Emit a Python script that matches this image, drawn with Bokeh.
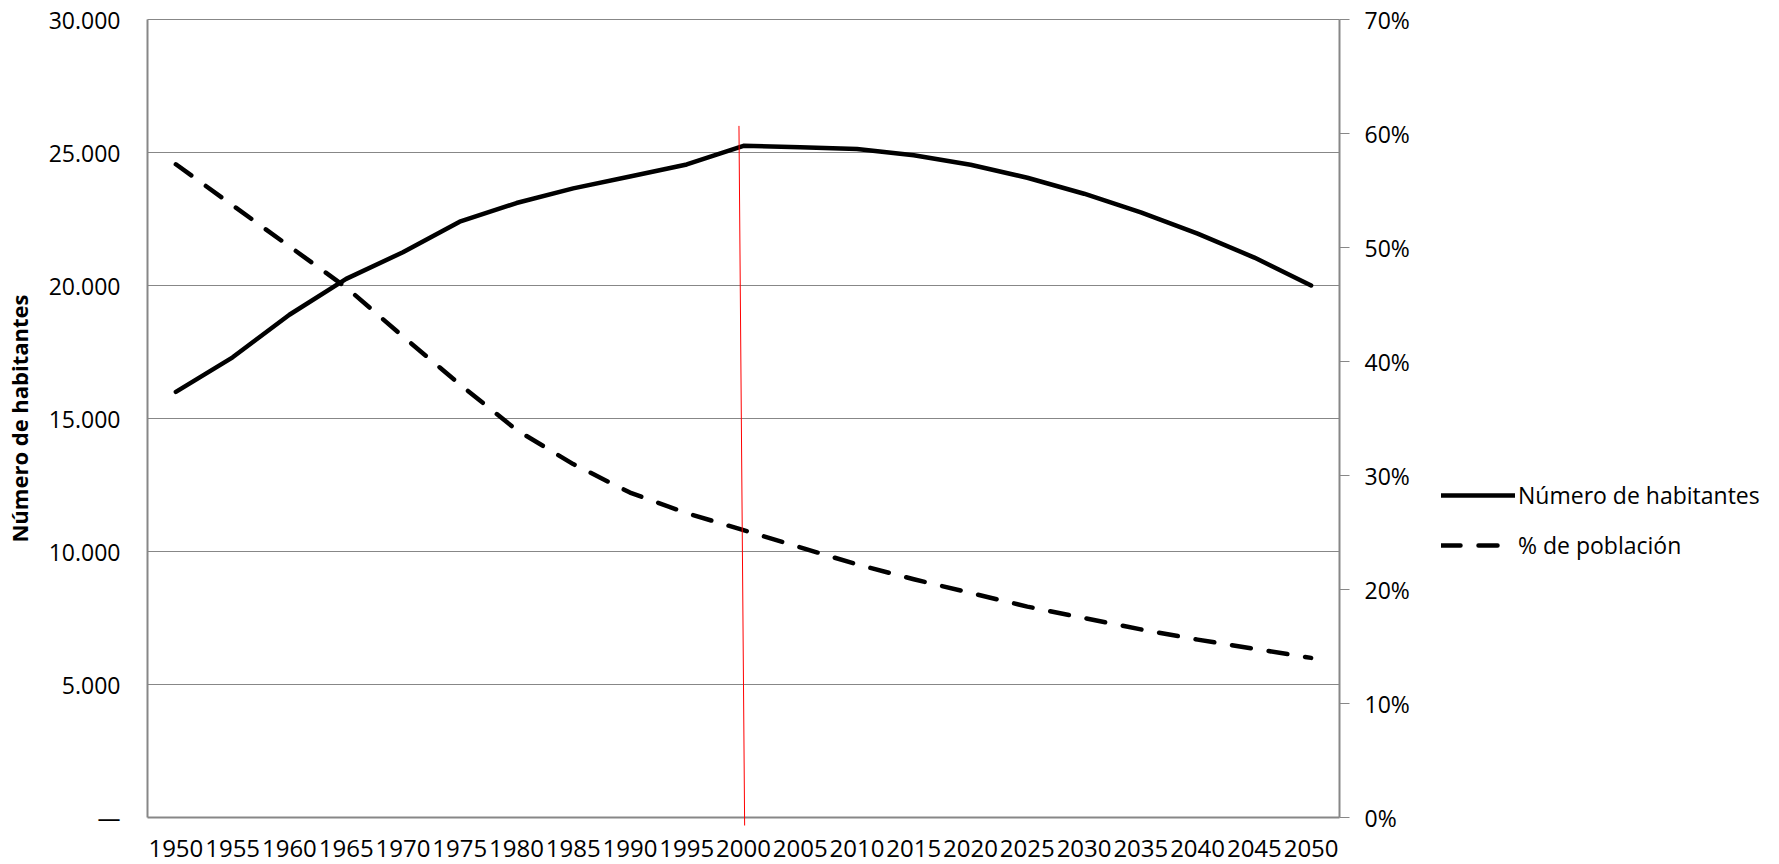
from bokeh.plotting import figure
from bokeh.models import (Range1d, LinearAxis, FixedTicker,
                          Legend, LegendItem)
from bokeh.embed import file_html
from bokeh.resources import INLINE

# ---------------- data ----------------
years = [1950, 1955, 1960, 1965, 1970, 1975, 1980, 1985, 1990, 1995, 2000,
         2005, 2010, 2015, 2020, 2025, 2030, 2035, 2040, 2045, 2050]
year_labels = [str(y) for y in years]

habitantes = [16000, 17300, 18900, 20250, 21250, 22400, 23100, 23650, 24100,
              24550, 25250, 25200, 25130, 24900, 24540, 24050, 23450, 22750,
              21950, 21050, 20000]

poblacion_pct = [57.3, 53.7, 50.1, 46.5, 42.2, 38.0, 34.0, 31.0, 28.5, 26.7,
                 25.2, 23.7, 22.2, 20.9, 19.7, 18.5, 17.5, 16.5, 15.6, 14.8, 14.0]

left_ticks = [0, 5000, 10000, 15000, 20000, 25000, 30000]
left_tick_labels = ["\u2014", "5.000", "10.000", "15.000", "20.000", "25.000", "30.000"]
right_ticks = [0, 10, 20, 30, 40, 50, 60, 70]
right_tick_labels = ["0%", "10%", "20%", "30%", "40%", "50%", "60%", "70%"]

series_names = ["N\u00famero de habitantes", "% de poblaci\u00f3n"]
y_title = "N\u00famero de habitantes"

marker_x_top = 1999.6
marker_x_bottom = 2000.1
marker_top = 26000

# ---------------- layout ----------------
W, H = 1779, 864
x_lo, x_hi = 1947.5, 2052.5          # category band edges
px_left, px_right = 147, 1339        # plot-area edges in pixels
top_px, zero_px = 19, 817            # pixel rows of the top value and of zero
marker_drop_px = 8                   # red line runs a little below the axis
left_max, right_max = 30000, 70

span_px = zero_px - top_px
y_start = -(H - zero_px) / span_px * left_max
y_end = left_max + top_px / span_px * left_max
pct_start = -(H - zero_px) / span_px * right_max
pct_end = right_max + top_px / span_px * right_max
x_per_px = (x_hi - x_lo) / (px_right - px_left)
x_start = x_lo - px_left * x_per_px
x_end = x_hi + (W - px_right) * x_per_px
marker_bottom = -marker_drop_px / span_px * left_max

GRAY = "#878787"
FONT = "Open Sans"

p = figure(width=W, height=H, output_backend="svg", toolbar_location=None,
           x_range=Range1d(x_start, x_end), y_range=Range1d(y_start, y_end),
           min_border_left=0, min_border_right=0,
           min_border_top=0, min_border_bottom=0,
           outline_line_color=None, background_fill_color="white",
           border_fill_color="white")
p.extra_y_ranges = {"pct": Range1d(pct_start, pct_end)}
p.xgrid.visible = False
p.ygrid.visible = False

# bottom (category) axis
xa = p.xaxis[0]
xa.ticker = FixedTicker(ticks=years)
xa.major_label_overrides = dict(zip(years, year_labels))
xa.fixed_location = 0
xa.axis_line_color = None
xa.major_tick_line_color = None
xa.major_tick_out = 0
xa.major_tick_in = 0
xa.minor_tick_line_color = None
xa.major_label_standoff = 22
xa.major_label_text_font = FONT
xa.major_label_text_font_size = "24px"
xa.major_label_text_color = "black"

# left axis
ya = p.yaxis[0]
ya.fixed_location = x_lo
ya.ticker = FixedTicker(ticks=left_ticks)
ya.major_label_overrides = dict(zip(left_ticks, left_tick_labels))
ya.bounds = (0, left_max)
ya.axis_line_color = GRAY
ya.axis_line_width = 2
ya.major_tick_line_color = None
ya.major_tick_out = 0
ya.major_tick_in = 0
ya.minor_tick_line_color = None
ya.major_label_standoff = 27
ya.major_label_text_font = FONT
ya.major_label_text_font_size = "23px"
ya.major_label_text_color = "black"
ya.axis_label = y_title
ya.axis_label_text_font = FONT
ya.axis_label_text_font_style = "bold"
ya.axis_label_text_font_size = "22px"
ya.axis_label_text_color = "black"
ya.axis_label_standoff = 12

# right axis (drawn at the right edge of the plot area)
ra = LinearAxis(y_range_name="pct", ticker=FixedTicker(ticks=right_ticks),
                fixed_location=x_hi)
ra.major_label_overrides = dict(zip(right_ticks, right_tick_labels))
ra.bounds = (0, right_max)
ra.axis_line_color = GRAY
ra.axis_line_width = 2
ra.major_tick_line_color = GRAY
ra.major_tick_line_width = 1
ra.major_tick_out = 10
ra.major_tick_in = 0
ra.minor_tick_line_color = None
ra.major_label_standoff = 15
ra.major_label_text_font = FONT
ra.major_label_text_font_size = "23px"
ra.major_label_text_color = "black"
p.add_layout(ra, "right")

# horizontal grid lines (plot area only)
n = len(left_ticks)
p.segment(x0=[x_lo] * n, y0=left_ticks, x1=[x_hi] * n, y1=left_ticks,
          line_color=GRAY, line_width=[2 if t == 0 else 1 for t in left_ticks])

r1 = p.line(years, habitantes, line_color="black", line_width=4.5,
            line_join="round", line_cap="round")
r2 = p.line(years, poblacion_pct, y_range_name="pct", line_color="black",
            line_width=4.5, line_dash="19 18", line_cap="round", line_join="round")

p.segment(x0=[marker_x_top], y0=[marker_top], x1=[marker_x_bottom], y1=[marker_bottom],
          line_color="red", line_width=1)

legend = Legend(items=[LegendItem(label=series_names[0], renderers=[r1]),
                       LegendItem(label=series_names[1], renderers=[r2])],
                location=(1441, 303), orientation="vertical",
                glyph_width=74, glyph_height=30, label_height=30,
                label_standoff=3, padding=0, margin=0, spacing=18,
                border_line_color=None, background_fill_alpha=0,
                label_text_font=FONT, label_text_font_size="23px",
                label_text_color="black")
p.add_layout(legend)

open("out.html", "w").write(file_html(p, INLINE))
